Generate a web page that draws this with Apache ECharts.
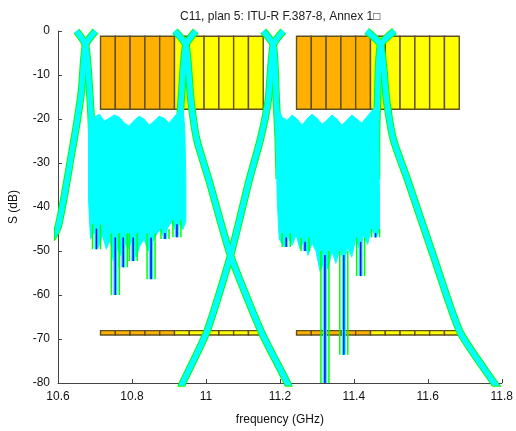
<!DOCTYPE html>
<html><head><meta charset="utf-8">
<script src="https://cdn.jsdelivr.net/npm/echarts@6/dist/echarts.min.js"></script>
<style>html,body{margin:0;padding:0;background:#fff}#c{width:516px;height:431px}</style>
</head><body><div id="c"></div>
<script>
const titleText = 'C11, plan 5: ITU-R F.387-8, Annex 1\u25A1';
const xTickLabels = ['10.6','10.8','11','11.2','11.4','11.6','11.8'];
const yTickLabels = ['-80','-70','-60','-50','-40','-30','-20','-10','0'];

// channel plan (GHz): lower edges of the 40 MHz channels
const chanLow1 = [10.715,10.755,10.795,10.835,10.875,10.915,10.955,10.995,11.035,11.075,11.115];
const chanLow2 = [11.245,11.285,11.325,11.365,11.405,11.445,11.485,11.525,11.565,11.605,11.645];
const chanWidth = 0.04;
const firstGroupCount = 5;
const bandTopDb = -1.2, bandBottomDb = -17.8;
const maskTopDb = -68.1, maskBottomDb = -69.1;

// filter skirts [GHz, dB]
const peak1Left  = [[10.7013,0],[10.6745,-3.2],[10.6637,-13.4],[10.6502,-21.3],[10.6341,-29.2],[10.618,-37.1],[10.6,-44.6],[10.583,-47.3]];
const peak1Right = [[10.6502,0],[10.6745,-3.2],[10.6852,-13.4],[10.6905,-21.3],[10.6932,-29.2]];
const peak2Left  = [[10.9726,0],[10.9457,-3.2],[10.935,-13.4],[10.9296,-21.3],[10.9296,-29.2]];
const peak2Right = [[10.9162,0],[10.9457,-3.2],[10.9592,-15.6],[10.9753,-24.7],[11.0075,-33.7],[11.0666,-51.0],[11.1499,-68.4],[11.2197,-79.9],[11.2278,-81.7]];
const peak3Left  = [[11.209,0],[11.1821,-3.2],[11.1687,-15.6],[11.1471,-24.7],[11.1176,-33.7],[11.0666,-51.0],[11.0022,-68.4],[10.9377,-79.9],[10.9296,-81.7]];
const peak3Right = [[11.1552,0],[11.1821,-3.2],[11.1902,-15.6],[11.1955,-24.7],[11.1982,-33.7]];
const peak4Left  = [[11.5101,0],[11.4722,-3.2],[11.4641,-15.6],[11.4614,-24.7],[11.4614,-33.7]];
const peak4Right = [[11.4346,0],[11.4722,-3.2],[11.4883,-15.6],[11.5071,-24.7],[11.5448,-33.7],[11.6146,-51.0],[11.6871,-68.4],[11.7785,-79.9],[11.7947,-81.7]];

// in-band ripple envelopes (outline of the dense trace clouds) [GHz, dB]
const cloud1 = [[10.6852,-18.5],[10.6986,-19.6],[10.712,-18.9],[10.7254,-20.5],[10.7389,-19.8],[10.7523,-19.1],[10.7658,-19.6],[10.7792,-20.9],[10.7926,-21.6],[10.8061,-20.3],[10.8195,-19.4],[10.8329,-20.0],[10.8463,-21.4],[10.8598,-20.5],[10.8732,-19.4],[10.8866,-19.8],[10.9001,-20.9],[10.9135,-19.6],[10.9269,-18.2],[10.9377,-17.3],
  [10.943,-22.4],[10.9457,-33.7],[10.9457,-43.3],
  [10.9377,-45.1],[10.9296,-43.7],[10.9189,-45.5],[10.9081,-43.3],[10.8974,-44.6],[10.8866,-46.9],[10.8759,-45.1],[10.8651,-46.4],[10.8544,-48.2],[10.8437,-50.0],[10.8329,-47.3],[10.8222,-48.7],[10.8114,-51.4],[10.8007,-47.3],[10.7899,-49.6],[10.7792,-47.8],[10.7684,-51.0],[10.7577,-48.7],[10.7496,-52.3],[10.7416,-47.3],[10.7308,-49.6],[10.7201,-46.4],[10.7093,-49.1],[10.6986,-45.5],[10.6879,-47.3],
  [10.6825,-38.3],[10.6825,-21.5]];
const cloud2 = [[11.1928,-17.3],[11.2063,-19.6],[11.2197,-20.3],[11.2331,-19.1],[11.2466,-20.0],[11.26,-21.4],[11.2734,-20.0],[11.2869,-18.9],[11.3003,-19.8],[11.3137,-21.2],[11.3272,-20.3],[11.3406,-19.1],[11.354,-20.0],[11.3675,-21.4],[11.3809,-20.3],[11.3943,-19.1],[11.4078,-20.0],[11.4212,-20.9],[11.4346,-19.6],[11.448,-18.2],[11.4588,-17.3],
  [11.4668,-24.7],[11.4695,-38.3],[11.4695,-45.5],
  [11.4588,-46.9],[11.448,-44.6],[11.4373,-48.5],[11.4265,-46.4],[11.4158,-49.6],[11.405,-47.3],[11.3943,-51.4],[11.3836,-49.1],[11.3728,-52.3],[11.3621,-49.6],[11.3513,-52.8],[11.3406,-50.0],[11.3298,-54.1],[11.3191,-52.3],[11.3084,-54.6],[11.2976,-50.0],[11.2869,-48.2],[11.2761,-51.0],[11.2654,-47.3],[11.2546,-49.6],[11.2439,-46.4],[11.2331,-48.7],[11.2224,-46.9],[11.2116,-49.1],[11.1982,-47.3],
  [11.1928,-38.3],[11.1902,-26.9]];

// deep nulls: [GHz, start dB, tip dB]
const nulls1 = [[10.704,-44,-49.6],[10.755,-46,-60.0],[10.7765,-46,-53.7],[10.8034,-46,-52.3],[10.8517,-46,-56.4],[10.8893,-45,-47.3],[10.9216,-43,-46.9]];
const nulls2 = [[11.2171,-46,-49.1],[11.2681,-47,-50.0],[11.3218,-50,-83],[11.3728,-50,-73.6],[11.4184,-47,-55.7],[11.4588,-45,-46.9]];

const CYAN = '#00ffff', GREEN = '#00ff00', BLUE = '#0000ff';
const ORANGE = '#ffb000', YELLOW = '#ffff00', EDGE = '#5e5020';

function rectData(lows, top, bottom){
  return lows.map((lo,i)=>[lo, lo+chanWidth, top, bottom, i<firstGroupCount?0:1]);
}
const rects = [].concat(rectData(chanLow1,bandTopDb,bandBottomDb), rectData(chanLow2,bandTopDb,bandBottomDb),
  rectData(chanLow1,maskTopDb,maskBottomDb), rectData(chanLow2,maskTopDb,maskBottomDb));

function renderRect(params, api){
  const p1 = api.coord([api.value(0), api.value(2)]);
  const p2 = api.coord([api.value(1), api.value(3)]);
  return {type:'rect', shape:{x:p1[0], y:p1[1], width:p2[0]-p1[0], height:p2[1]-p1[1]},
    style:{fill: api.value(4)?YELLOW:ORANGE, stroke:EDGE, lineWidth:1.4}};
}
function cloudSeries(pts){
  return {type:'custom', clip:true, z:6, data:[pts[0]], encode:{x:0,y:1},
    renderItem:(params, api)=>({type:'polygon', shape:{points: pts.map(p=>api.coord(p))},
      style:{fill:CYAN, stroke:CYAN, lineWidth:1}})};
}
function renderNull(params, api){
  const a = api.coord([api.value(0), api.value(1)]);
  const b = api.coord([api.value(0), api.value(2)]);
  const x = a[0];
  return {type:'group', children:[
    {type:'line', shape:{x1:x, y1:a[1], x2:x, y2:b[1]}, style:{stroke:CYAN, lineWidth:4}},
    {type:'line', shape:{x1:x-4, y1:a[1], x2:x-4, y2:b[1]}, style:{stroke:GREEN, lineWidth:1.5}},
    {type:'line', shape:{x1:x+4, y1:a[1], x2:x+4, y2:b[1]}, style:{stroke:GREEN, lineWidth:1.5}},
    {type:'line', shape:{x1:x, y1:a[1]+4, x2:x, y2:b[1]}, style:{stroke:BLUE, lineWidth:1.5}}
  ]};
}
function skirt(pts){
  return [
    {type:'line', data:pts, symbol:'none', smooth:0.2, z:4, clip:true, silent:true, lineStyle:{color:GREEN, width:7.5}},
    {type:'line', data:pts, symbol:'none', smooth:0.2, z:5, clip:true, silent:true, lineStyle:{color:CYAN, width:5.5}}
  ];
}

const font = 'Liberation Sans, Arial, sans-serif';
const chart = echarts.init(document.getElementById('c'), null, {renderer:'canvas'});
chart.setOption({
  animation:false,
  backgroundColor:'#fff',
  title:{text:titleText, left:175, top:6, textStyle:{fontSize:12, fontWeight:'normal', color:'#222', fontFamily:font}},
  grid:{left:58, top:31, width:447, height:353, containLabel:false},
  xAxis:{type:'value', min:10.6, max:11.8, interval:0.2,
    name:'frequency (GHz)', nameLocation:'middle', nameGap:31,
    nameTextStyle:{fontSize:12, color:'#111', fontFamily:font},
    axisLine:{show:true, onZero:false, lineStyle:{color:'#444', width:1}},
    axisTick:{show:true, inside:true, length:4, lineStyle:{color:'#444'}},
    axisLabel:{fontSize:12, color:'#111', fontFamily:font, margin:8, formatter:(v,i)=>xTickLabels[i]},
    splitLine:{show:false}},
  yAxis:{type:'value', min:-80, max:0, interval:10,
    name:'S (dB)', nameLocation:'middle', nameGap:38,
    nameTextStyle:{fontSize:12, color:'#111', fontFamily:font},
    axisLine:{show:true, onZero:false, lineStyle:{color:'#444', width:1}},
    axisTick:{show:true, inside:true, length:4, lineStyle:{color:'#444'}},
    axisLabel:{fontSize:12, color:'#111', fontFamily:font, margin:8, formatter:(v,i)=>yTickLabels[i]},
    splitLine:{show:false}},
  series:[
    {type:'custom', z:2, data:rects, encode:{x:[0,1], y:[2,3]}, renderItem:renderRect},
    cloudSeries(cloud1), cloudSeries(cloud2),
    {type:'custom', z:7, clip:true, data:nulls1, encode:{x:0,y:[1,2]}, renderItem:renderNull},
    {type:'custom', z:7, clip:true, data:nulls2, encode:{x:0,y:[1,2]}, renderItem:renderNull},
    ...skirt(peak1Left), ...skirt(peak1Right), ...skirt(peak2Left), ...skirt(peak2Right),
    ...skirt(peak3Left), ...skirt(peak3Right), ...skirt(peak4Left), ...skirt(peak4Right)
  ]
});
</script></body></html>
